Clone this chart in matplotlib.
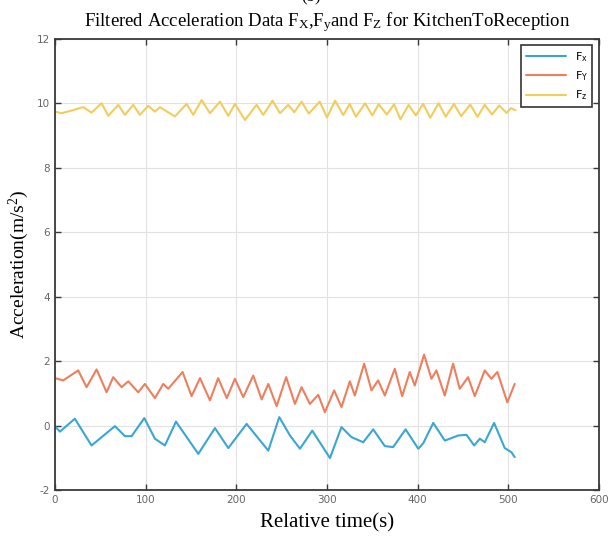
import numpy as np
import matplotlib
matplotlib.use("Agg")
import matplotlib.pyplot as plt

# =====================================================
# DATA (turning points)
# =====================================================

fx_t = [0, 5.5, 22, 40.4, 66.2, 77.2, 84.6, 98.6, 110.3, 121.3, 133.5,
        158.1, 176.5, 191.2, 211.4, 235.3, 247.4, 259.2, 270.2, 283.8,
        303.3, 316, 327, 340, 351, 363.8, 373, 386.7, 400.7, 406.2,
        417.2, 430, 444.7, 453.9, 462.3, 468.6, 474, 484.3, 496, 503.4, 507]
fx_v = [-0.02, -0.19, 0.21, -0.62, -0.02, -0.33, -0.33, 0.23, -0.41, -0.62,
        0.12, -0.88, -0.08, -0.70, 0.05, -0.78, 0.26, -0.31, -0.72, -0.16,
        -1.01, -0.05, -0.36, -0.52, -0.12, -0.64, -0.67, -0.12, -0.72, -0.55,
        0.08, -0.47, -0.31, -0.29, -0.62, -0.41, -0.52, 0.08, -0.70, -0.83,
        -0.98]

fy_t = [0, 9.2, 25.7, 34.9, 46, 57, 64.3, 73.5, 80.9, 91.9, 99.2, 110.3,
        119.5, 125, 140.8, 150.7, 160, 171, 180, 189.5, 198.5, 207.7,
        218.7, 228, 235.3, 244.5, 255, 264.7, 272, 281.2, 290.4, 297.7,
        307.9, 316, 325.2, 330.7, 341, 349.1, 356.4, 363.8, 374.8, 382.9,
        391.3, 396.8, 407.1, 415.2, 420.7, 429.9, 439.1, 446.4, 455.6,
        463, 474, 481.3, 487.9, 498.9, 507]
fy_v = [1.47, 1.40, 1.71, 1.19, 1.74, 1.03, 1.50, 1.19, 1.37, 1.03, 1.29,
        0.85, 1.29, 1.14, 1.66, 0.91, 1.47, 0.78, 1.47, 0.85, 1.45, 0.88,
        1.55, 0.81, 1.29, 0.60, 1.50, 0.67, 1.19, 0.67, 0.95, 0.41,
        1.09, 0.57, 1.37, 0.93, 1.92, 1.09, 1.40, 0.93, 1.76, 0.91,
        1.66, 1.24, 2.20, 1.45, 1.71, 0.93, 1.92, 1.14, 1.50,
        0.91, 1.71, 1.45, 1.66, 0.72, 1.29]

fz_t = [0, 7.4, 16.5, 31.2, 40.4, 51.5, 58.8, 69.9, 77.2, 86.4, 93.7,
        102.9, 110.3, 115.8, 132.3, 145.2, 152.6, 161.8, 171, 182, 191.2,
        198.5, 209.6, 222.4, 229.8, 240, 248.2, 257.3, 264, 272, 280, 292,
        300, 309, 318, 325, 332, 342, 350, 357, 366, 374, 381, 390, 398,
        406, 414, 423, 431, 440, 448, 458, 466, 474, 482, 490, 498, 503, 508]
fz_v = [9.74, 9.69, 9.76, 9.88, 9.71, 10.0, 9.61, 9.95, 9.64, 9.95, 9.64,
        9.92, 9.74, 9.88, 9.59, 9.98, 9.64, 10.1, 9.69, 10.05, 9.61,
        9.98, 9.48, 9.95, 9.64, 10.08, 9.69, 9.95, 9.72, 10.05, 9.68, 10.05,
        9.56, 10.08, 9.63, 9.98, 9.58, 10.0, 9.62, 9.97, 9.65, 9.97, 9.5,
        9.95, 9.62, 9.98, 9.55, 10.0, 9.58, 9.98, 9.6, 9.96, 9.58, 9.95,
        9.65, 9.93, 9.7, 9.85, 9.78]

labels = [r"$\mathsf{F_x}$", r"$\mathsf{F_Y}$", r"$\mathsf{F_z}$"]
colors = ["#3aa6d4", "#ee7f5e", "#f1cd5c"]

x_ticks = [0, 100, 200, 300, 400, 500, 600]
y_ticks = [-2, 0, 2, 4, 6, 8, 10, 12]

# =====================================================
# STYLE
# =====================================================

plt.rcParams["axes.unicode_minus"] = False
plt.rcParams["mathtext.fontset"] = "custom"
plt.rcParams["mathtext.rm"] = "Liberation Serif"
plt.rcParams["mathtext.it"] = "Liberation Serif:italic"
plt.rcParams["mathtext.sf"] = "DejaVu Sans"

# =====================================================
# FIGURE
# =====================================================

fig = plt.figure(figsize=(6.1, 5.39), dpi=100)
ax = fig.add_axes([0.090, 0.091, 0.892, 0.837])

series = [(fx_t, fx_v), (fy_t, fy_v), (fz_t, fz_v)]

for (t, v), lab, col in zip(series, labels, colors):
    ax.plot(t, v, color=col, lw=1.5, label=lab,
            solid_joinstyle="round", solid_capstyle="round")

ax.set_xlim(0, 600)
ax.set_ylim(-2, 12)
ax.set_xticks(x_ticks)
ax.set_yticks(y_ticks)

ax.grid(True, color="#e2e2e2", lw=0.8)
ax.set_axisbelow(True)

for s in ax.spines.values():
    s.set_color("#3a3a3a")
    s.set_linewidth(1.3)

ax.tick_params(direction="in", length=4, width=1, colors="#3a3a3a",
               top=True, right=True, labelsize=7.5, labelcolor="#666666")

ax.set_xlabel("Relative time(s)", family="Liberation Serif",
              fontsize=15, labelpad=6)
ax.set_ylabel(r"Acceleration(m/s$^2$)", family="Liberation Serif",
              fontsize=14, labelpad=4)

ax.set_title(r"Filtered Acceleration Data F$_\mathrm{X}$,F$_\mathrm{y}$and "
             r"F$_\mathrm{Z}$ for KitchenToReception",
             family="Liberation Serif", fontsize=13.5, pad=9)

fig.text(0.51, 1.006, "(b)", ha="center", va="center",
         family="Liberation Serif", fontsize=12)

leg = ax.legend(loc="upper right", fontsize=8, frameon=True, fancybox=False,
                handlelength=3.6, borderaxespad=0.6, labelspacing=0.5)
leg.get_frame().set_edgecolor("#333333")
leg.get_frame().set_linewidth(1.2)
leg.get_frame().set_alpha(1)

fig.savefig("out.png", dpi=100)
